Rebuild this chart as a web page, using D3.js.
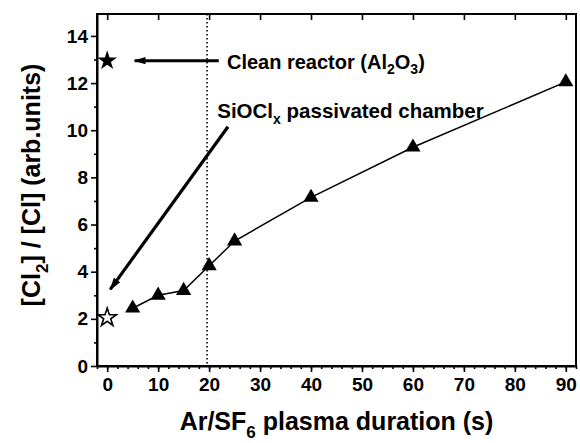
<!DOCTYPE html>
<html>
<head>
<meta charset="utf-8">
<script src="https://cdn.jsdelivr.net/npm/d3@7"></script>
<style>
  body { margin: 0; background: #fff; }
  text { font-family: "Liberation Sans", Arial, sans-serif; font-weight: bold; fill: #000; }
</style>
</head>
<body>
<div id="my_dataviz"></div>
<script>
// data
var durations = [5, 10, 15, 20, 25, 40, 60, 90];
var ratios = [2.45, 3.0, 3.2, 4.25, 5.3, 7.15, 9.28, 12.05];
var cleanPoint = [0, 12.95];      // clean reactor (Al2O3), filled star
var passivatedPoint = [0, 2.05];  // SiOClx passivated chamber, open star
var xTicks = [0, 10, 20, 30, 40, 50, 60, 70, 80, 90];
var yTicks = [0, 2, 4, 6, 8, 10, 12, 14];
var markerLine = 19.6;            // dotted vertical line

var margin = { top: 14, right: 4, bottom: 77, left: 97 },
  width = 580 - margin.left - margin.right,
  height = 443 - margin.top - margin.bottom;

var svg = d3.select("#my_dataviz")
  .append("svg")
  .attr("width", 580)
  .attr("height", 443)
  .append("g")
  .attr("transform", "translate(" + margin.left + "," + margin.top + ")");

var x = d3.scaleLinear().domain([-2, 92]).range([0, width]);
var y = d3.scaleLinear().domain([0, 14.93]).range([height, 0]);

// arrowhead
svg.append("defs").append("marker")
  .attr("id", "head")
  .attr("viewBox", "0 0 10 6")
  .attr("refX", 9).attr("refY", 3)
  .attr("markerWidth", 4.5).attr("markerHeight", 2.4)
  .attr("markerUnits", "strokeWidth")
  .attr("orient", "auto")
  .append("path")
  .attr("d", "M0,0 L10,3 L0,6 Z")
  .attr("fill", "#000");

// bottom axis: major + minor, outward
var xMinor = d3.range(-2, 93, 2);
svg.append("g")
  .attr("transform", "translate(0," + height + ")")
  .call(d3.axisBottom(x).tickValues(xMinor).tickSize(3).tickFormat(""))
  .call(function (g) { g.select(".domain").remove(); });
var xAxis = svg.append("g")
  .attr("transform", "translate(0," + height + ")")
  .call(d3.axisBottom(x).tickValues(xTicks).tickSizeInner(6).tickSizeOuter(0).tickPadding(6));
xAxis.selectAll("text").attr("font-size", 19).attr("font-family", "Liberation Sans, Arial, sans-serif");

// left axis
var yMinor = d3.range(1, 15, 2);
svg.append("g")
  .call(d3.axisLeft(y).tickValues(yMinor).tickSize(3).tickFormat(""))
  .call(function (g) { g.select(".domain").remove(); });
var yAxis = svg.append("g")
  .call(d3.axisLeft(y).tickValues(yTicks).tickSizeInner(6).tickSizeOuter(0).tickPadding(3));
yAxis.selectAll("text").attr("font-size", 19).attr("font-family", "Liberation Sans, Arial, sans-serif");

// top axis, ticks pointing inside
svg.append("g")
  .call(d3.axisBottom(x).tickValues(xTicks).tickSize(6).tickFormat(""))
  .call(function (g) { g.select(".domain").remove(); });

svg.selectAll(".domain").attr("stroke-width", 2);
svg.selectAll(".tick line").attr("stroke-width", 1.6);

// frame
svg.append("rect")
  .attr("width", width).attr("height", height)
  .attr("fill", "none").attr("stroke", "#000").attr("stroke-width", 2);

// dotted line
svg.append("line")
  .attr("x1", x(markerLine)).attr("x2", x(markerLine))
  .attr("y1", 0).attr("y2", height)
  .attr("stroke", "#000").attr("stroke-width", 1.6)
  .attr("stroke-dasharray", "1.6,2.4");

// series line + triangles
var pts = durations.map(function (d, i) { return [d, ratios[i]]; });
svg.append("path")
  .datum(pts)
  .attr("fill", "none").attr("stroke", "#000").attr("stroke-width", 1.5)
  .attr("d", d3.line().x(function (d) { return x(d[0]); }).y(function (d) { return y(d[1]); }));

svg.selectAll(".tri")
  .data(pts)
  .enter().append("path")
  .attr("class", "tri")
  .attr("transform", function (d) { return "translate(" + x(d[0]) + "," + y(d[1]) + ")"; })
  .attr("d", d3.symbol().type(d3.symbolTriangle).size(100))
  .attr("fill", "#000");

// stars
svg.append("path")
  .attr("transform", "translate(" + x(cleanPoint[0]) + "," + y(cleanPoint[1]) + ")")
  .attr("d", d3.symbol().type(d3.symbolStar).size(120))
  .attr("fill", "#000");
svg.append("path")
  .attr("transform", "translate(" + x(passivatedPoint[0]) + "," + y(passivatedPoint[1]) + ")")
  .attr("d", d3.symbol().type(d3.symbolStar).size(105))
  .attr("fill", "#fff").attr("stroke", "#000").attr("stroke-width", 1.6);

// annotations (data units)
svg.append("line")
  .attr("x1", x(21.9)).attr("y1", y(12.95))
  .attr("x2", x(5.4)).attr("y2", y(12.95))
  .attr("stroke", "#000").attr("stroke-width", 3)
  .attr("marker-end", "url(#head)");
svg.append("line")
  .attr("x1", x(23.7)).attr("y1", y(10.15))
  .attr("x2", x(0.6)).attr("y2", y(3.25))
  .attr("stroke", "#000").attr("stroke-width", 3.2)
  .attr("marker-end", "url(#head)");

var t1 = svg.append("text")
  .attr("x", x(23.5)).attr("y", y(12.95) + 8)
  .attr("font-size", 20);
t1.append("tspan").text("Clean reactor (Al");
t1.append("tspan").attr("dy", 5).attr("font-size", 14).text("2");
t1.append("tspan").attr("dy", -5).text("O");
t1.append("tspan").attr("dy", 5).attr("font-size", 14).text("3");
t1.append("tspan").attr("dy", -5).text(")");

var t2 = svg.append("text")
  .attr("x", x(21.6)).attr("y", y(10.5))
  .attr("font-size", 20.5);
t2.append("tspan").text("SiOCl");
t2.append("tspan").attr("dy", 6).attr("font-size", 14).text("x");
t2.append("tspan").attr("dy", -6).text(" passivated chamber");

// axis titles
var xt = svg.append("text")
  .attr("x", width / 2).attr("y", height + 64)
  .attr("text-anchor", "middle")
  .attr("font-size", 25);
xt.append("tspan").text("Ar/SF");
xt.append("tspan").attr("dy", 8).attr("font-size", 17).text("6");
xt.append("tspan").attr("dy", -8).text(" plasma duration (s)");

var yt = svg.append("text")
  .attr("transform", "translate(" + (-57) + "," + (height / 2 - 5) + ") rotate(-90)")
  .attr("text-anchor", "middle")
  .attr("font-size", 25);
yt.append("tspan").text("[Cl");
yt.append("tspan").attr("dy", 8).attr("font-size", 17).text("2");
yt.append("tspan").attr("dy", -8).text("] / [Cl] (arb.units)");
</script>
</body>
</html>
